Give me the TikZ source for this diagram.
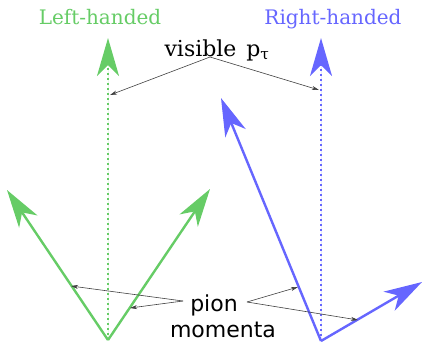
\documentclass[tikz,border=0pt]{standalone}
\usepackage{fontspec}
\setmainfont{DejaVu Serif}
\setsansfont{DejaVu Sans}
\usetikzlibrary{arrows.meta}
\definecolor{lgreen}{RGB}{102,204,102}
\definecolor{lblue}{RGB}{102,102,255}
\tikzset{
  big/.style={line width=2.4pt, -{Stealth[length=38pt,width=22pt,inset=11pt]}},
  dots/.style={line width=2.4pt, dash pattern=on 2.4pt off 2.6pt, -{Stealth[length=38pt,width=22pt,inset=11pt]}},
  ptr/.style={line width=0.6pt, draw=black!75, -{Stealth[length=7pt,width=4pt,inset=2pt]}},
  title/.style={font=\fontsize{20}{22}\selectfont, anchor=base},
  lab/.style={font=\fontsize{22}{24}\selectfont, anchor=base},
  slab/.style={font=\sffamily\fontsize{22}{24}\selectfont, anchor=base}
}
\begin{document}
\begin{tikzpicture}[x=1pt,y=-1pt]
\useasboundingbox (0,0) rectangle (422,343);
% coordinates
\coordinate (gv) at (108,340);
\coordinate (gt) at (108,38);
\coordinate (gl) at (7,190);
\coordinate (gr) at (210,189);
\coordinate (bv) at (321,341);
\coordinate (bt) at (321,38);
\coordinate (bl) at (221,98);
\coordinate (br) at (422,282);
% pointer targets
\coordinate (vgt) at (110,95);
\coordinate (vbt) at (319,90);
\coordinate (pgl) at (71,286);
\coordinate (pgr) at (130,308);
\coordinate (pbl) at (298,287);
\coordinate (pbr) at (358,320);
\coordinate (vs) at (210,57);
\coordinate (ps1) at (183,301);
\coordinate (ps2) at (247,302);
% titles
\node[title, text=lgreen] (lh) at (100,24) {Left-handed};
\node[title, text=lblue] (rh) at (333,24) {Right-handed};
\node[lab] (vis) at (217,56) {visible\hspace{0.45em}p\textsubscript{τ}};
\node[slab] (pion) at (214,311) {pion};
\node[slab] (mom) at (223,337) {momenta};
% green
\draw[dots, draw=lgreen, fill=lgreen] (gv) -- (gt);
\draw[big, draw=lgreen, fill=lgreen] (gv) -- (gl);
\draw[big, draw=lgreen, fill=lgreen] (gv) -- (gr);
% blue
\draw[dots, draw=lblue, fill=lblue] (bv) -- (bt);
\draw[big, draw=lblue, fill=lblue] (bv) -- (bl);
\draw[big, draw=lblue, fill=lblue] (bv) -- (br);
% pointers
\draw[ptr] (vs) -- (vgt);
\draw[ptr] (vs) -- (vbt);
\draw[ptr] (ps1) -- (pgl);
\draw[ptr] (ps1) -- (pgr);
\draw[ptr] (ps2) -- (pbl);
\draw[ptr] (ps2) -- (pbr);
\end{tikzpicture}
\end{document}
